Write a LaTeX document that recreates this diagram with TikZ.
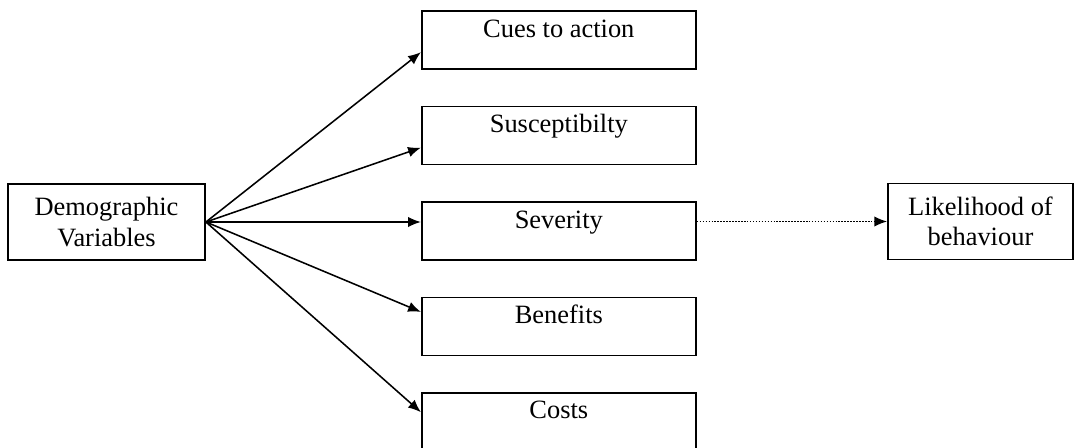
\documentclass[tikz,border=0pt]{standalone}
\usepackage{fontspec}
\setmainfont{Liberation Serif}
\usetikzlibrary{arrows.meta}
\usetikzlibrary{positioning}
\tikzstyle{block} = [rectangle, draw, line width=1.3pt, inner sep=0pt,
    minimum width=6.85cm, text height=0.65cm, text depth=0.8cm,
    font=\fontsize{18.8}{21.5}\selectfont]
\tikzstyle{twoline} = [rectangle, draw, line width=1.3pt, inner sep=0pt,
    align=center, minimum height=1.9cm,
    font=\fontsize{18.8}{21.5}\selectfont]
\tikzstyle{link} = [line width=1.1pt, -{Latex[length=3.2mm,width=2.6mm]}]

\begin{document}
\begin{tikzpicture}
    \useasboundingbox (0,0) rectangle (26.925,-11.2);

    \node[twoline, minimum width=4.925cm] (demo) at (2.6625,-5.55) {Demographic\\Variables};

    \node[block, right=5.375cm of demo, yshift=-0.225cm] (sev) {Severity};
    \node[block, above=0.89cm of sev] (susc) {Susceptibilty};
    \node[block, above=0.89cm of susc] (cues) {Cues to action};
    \node[block, below=0.89cm of sev] (ben) {Benefits};
    \node[block, below=0.89cm of ben] (costs) {Costs};

    \node[twoline, minimum width=4.62cm, right=4.76cm of sev, yshift=0.2375cm] (like) {Likelihood of\\behaviour};

    \draw[link] (demo.east) -- (cues.185);
    \draw[link] (demo.east) -- (susc.185);
    \draw[link] (demo.east) -- (demo.east -| sev.west);
    \draw[link] (demo.east) -- (ben.174);
    \draw[link] (demo.east) -- (costs.176);

    \draw[link, densely dotted] (like.west -| sev.east) -- (like.west);
\end{tikzpicture}
\end{document}
